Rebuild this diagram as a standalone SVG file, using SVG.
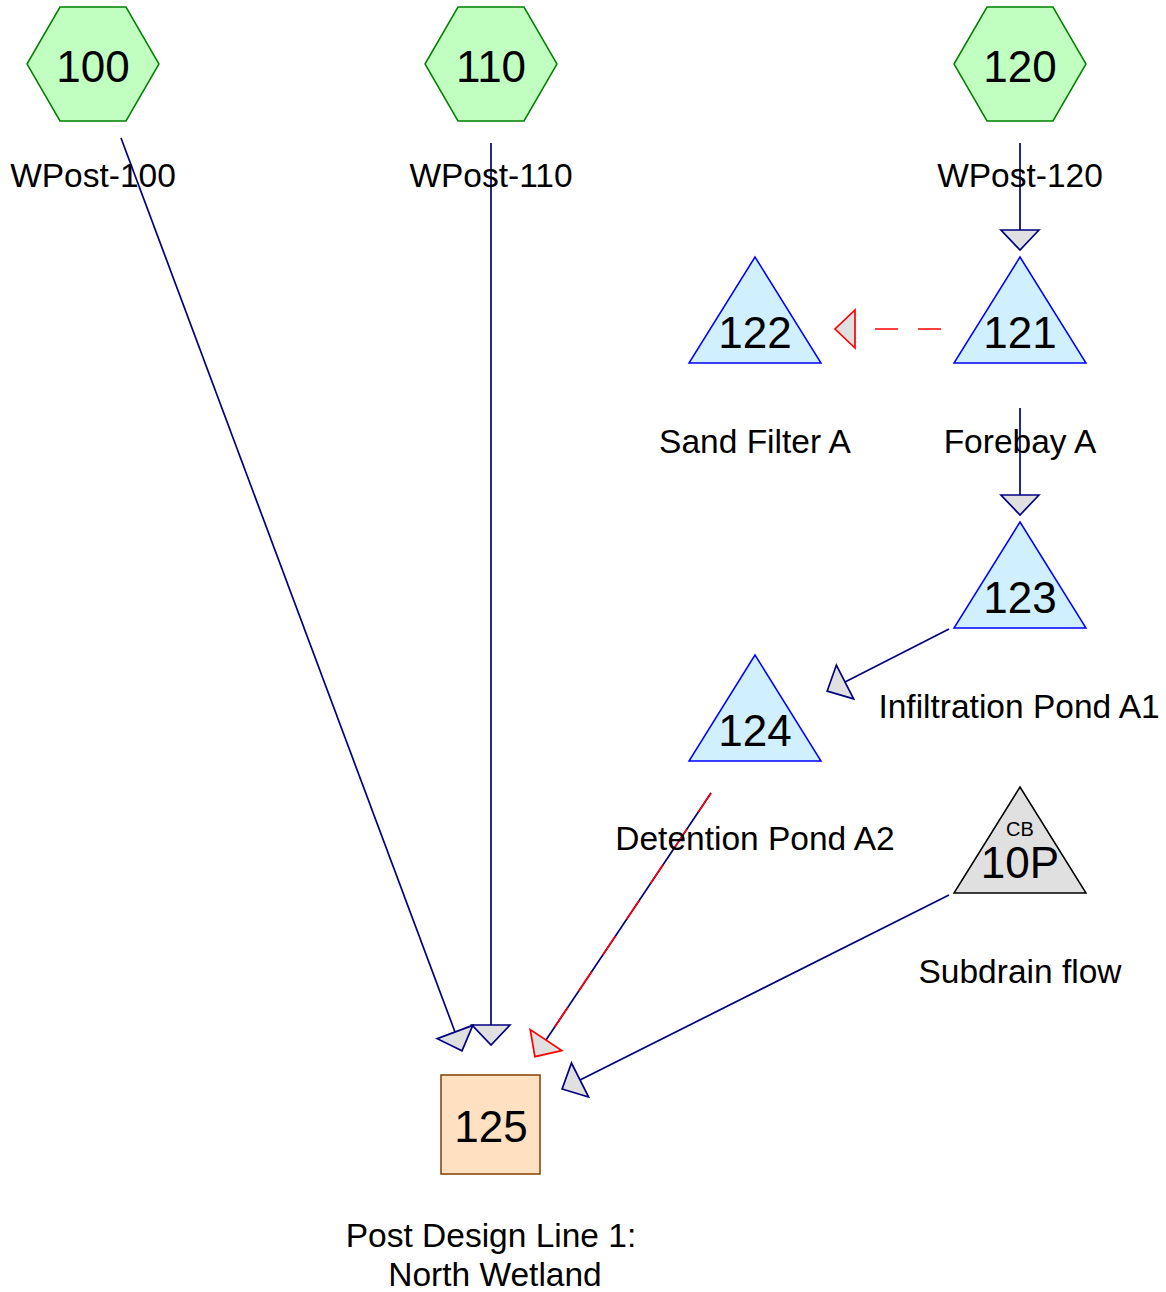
<svg xmlns="http://www.w3.org/2000/svg" width="1166" height="1292" viewBox="0 0 1166 1292">
<style>
text{font-family:"Liberation Sans",Arial,sans-serif;fill:#000;text-anchor:middle}
.num{font-size:44px}
.lbl{font-size:33.5px}
.hex{fill:#c0ffc0;stroke:#008000;stroke-width:1.5}
.tri{fill:#d0f0ff;stroke:#0000ff;stroke-width:1.5}
.cb{fill:#e0e0e0;stroke:#000;stroke-width:1.5}
.box{fill:#ffe0c0;stroke:#804000;stroke-width:1.5}
.ln{fill:none;stroke:#000080;stroke-width:1.7;marker-end:url(#ah)}
.rd{fill:none;stroke:#ff0000;stroke-width:1.7;stroke-dasharray:23 20}
</style>
<defs>
<marker id="ah" markerUnits="userSpaceOnUse" markerWidth="24" markerHeight="42" viewBox="-2 -21 24 42" refX="0" refY="0" orient="auto" overflow="visible">
<path d="M0,-19 L20,0 L0,19 Z" fill="#e0e0e0" stroke="#000080" stroke-width="1.7"/>
</marker>
<marker id="ahr" markerUnits="userSpaceOnUse" markerWidth="24" markerHeight="42" viewBox="-2 -21 24 42" refX="0" refY="0" orient="auto" overflow="visible">
<path d="M0,-19 L20,0 L0,19 Z" fill="#e0e0e0" stroke="#ff0000" stroke-width="1.7"/>
</marker>
</defs>
<g id="connectors">
<path class="ln" d="M121,138 L455,1032"/>
<path class="ln" d="M491,143 L491,1025"/>
<path class="ln" d="M1020,143 L1020,230"/>
<path class="ln" d="M1020,408 L1020,495"/>
<path class="rd" d="M941,329 L855,329" marker-end="url(#ahr)"/>
<path class="ln" d="M949,629 L845,682"/>
<path d="M711,793 L546,1040" fill="none" stroke="#000080" stroke-width="1.7" marker-end="url(#ahr)"/>
<path class="rd" d="M711,793 L546,1040"/>
<path class="ln" d="M949,895 L580,1080"/>
</g>
<g id="n100">
<polygon class="hex" points="27,64 60,7 126,7 159,64 126,121 60,121"/>
<text class="num" x="93" y="82">100</text>
<text class="lbl" x="93" y="187">WPost-100</text>
</g>
<g id="n110">
<polygon class="hex" points="425,64 458,7 524,7 557,64 524,121 458,121"/>
<text class="num" x="491" y="82">110</text>
<text class="lbl" x="491" y="187">WPost-110</text>
</g>
<g id="n120">
<polygon class="hex" points="954,64 987,7 1053,7 1086,64 1053,121 987,121"/>
<text class="num" x="1020" y="82">120</text>
<text class="lbl" x="1020" y="187">WPost-120</text>
</g>
<g id="n121">
<polygon class="tri" points="1020,257 1086,363 954,363"/>
<text class="num" x="1020" y="348">121</text>
<text class="lbl" x="1020" y="453">Forebay A</text>
</g>
<g id="n122">
<polygon class="tri" points="755,257 821,363 689,363"/>
<text class="num" x="755" y="348">122</text>
<text class="lbl" x="755" y="453">Sand Filter A</text>
</g>
<g id="n123">
<polygon class="tri" points="1020,522 1086,628 954,628"/>
<text class="num" x="1020" y="613">123</text>
<text class="lbl" x="1019" y="718">Infiltration Pond A1</text>
</g>
<g id="n124">
<polygon class="tri" points="755,655 821,761 689,761"/>
<text class="num" x="755" y="746">124</text>
<text class="lbl" x="755" y="850">Detention Pond A2</text>
</g>
<g id="n10P">
<polygon class="cb" points="1020,787 1086,893 954,893"/>
<text x="1020" y="836" style="font-size:20px">CB</text>
<text class="num" x="1020" y="878">10P</text>
<text class="lbl" x="1020" y="983">Subdrain flow</text>
</g>
<g id="n125">
<rect class="box" x="441" y="1075" width="99" height="99"/>
<text class="num" x="491" y="1142">125</text>
<text class="lbl" x="491" y="1247">Post Design Line 1:</text>
<text class="lbl" x="495" y="1286">North Wetland</text>
</g>
</svg>
